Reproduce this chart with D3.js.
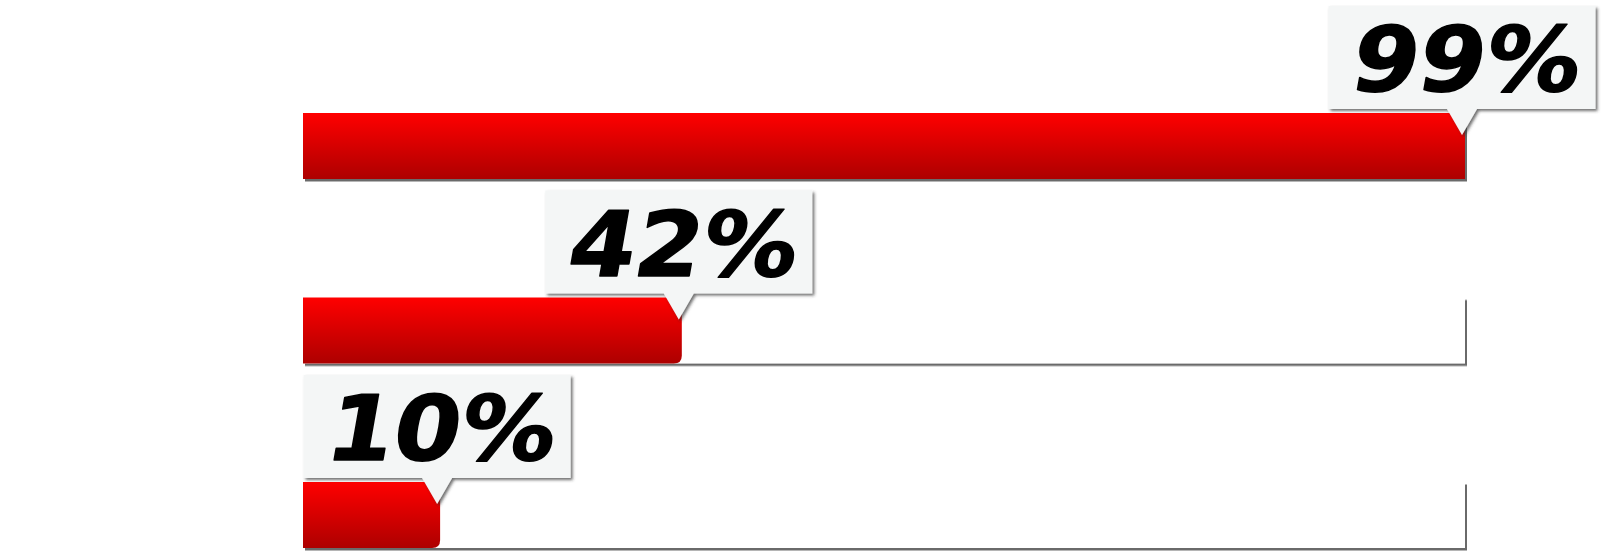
<!DOCTYPE html>
<html>
<head>
<meta charset="utf-8">
<script src="https://cdn.jsdelivr.net/npm/d3@7"></script>
<style>
  html, body { margin: 0; padding: 0; background: #fff; }
  svg { display: block; }
</style>
</head>
<body>
<div id="chart"></div>
<script>
// rows, top to bottom
var categories = ["row1", "row2", "row3"]
var percentLabels = [99, 42, 10]          // numbers printed in the callouts
var barLengths = [100, 32.6, 11.8]        // how far each red bar is drawn, % of track

var width = 1605
var height = 551

var svg = d3.select("#chart")
            .append("svg")
            .attr("width", width)
            .attr("height", height)

var defs = svg.append("defs")

var grad = defs.append("linearGradient")
               .attr("id", "redgrad")
               .attr("x1", 0).attr("y1", 0)
               .attr("x2", 0).attr("y2", 1)
grad.append("stop").attr("offset", "0%").attr("stop-color", "#ff0000")
grad.append("stop").attr("offset", "100%").attr("stop-color", "#ad0000")

var trackShadow = defs.append("filter")
                      .attr("id", "trackshadow")
                      .attr("x", "-5%").attr("y", "-20%")
                      .attr("width", "110%").attr("height", "150%")
trackShadow.append("feDropShadow")
           .attr("dx", 2).attr("dy", 2.5)
           .attr("stdDeviation", 0.6)
           .attr("flood-color", "#6a6a6a")
           .attr("flood-opacity", 1)

var boxShadow = defs.append("filter")
                    .attr("id", "boxshadow")
                    .attr("x", "-10%").attr("y", "-10%")
                    .attr("width", "130%").attr("height", "140%")
boxShadow.append("feDropShadow")
         .attr("dx", 2).attr("dy", 2)
         .attr("stdDeviation", 1.6)
         .attr("flood-color", "#333")
         .attr("flood-opacity", 0.7)

var x = d3.scaleLinear()
          .domain([0, 100])
          .range([303, 1465])

var y = d3.scaleBand()
          .domain(categories)
          .range([113, 548])
          .paddingInner(0.6423)
          .paddingOuter(0)

var rows = categories.map(function(c, i) {
  return {cat: c, label: percentLabels[i], len: barLengths[i]}
})

// white tracks with a little shadow on the right and bottom
svg.selectAll(".track")
   .data(rows)
   .enter()
   .append("rect")
   .attr("class", "track")
   .attr("x", x(0))
   .attr("y", function(d) { return y(d.cat) })
   .attr("width", x(100) - x(0))
   .attr("height", y.bandwidth())
   .attr("fill", "#fff")
   .attr("filter", "url(#trackshadow)")

// red bars, bottom right corner rounded unless the bar is full
function barPath(d) {
  var x0 = x(0), x1 = x(d.len)
  var y0 = y(d.cat), y1 = y0 + y.bandwidth()
  var r = d.len >= 100 ? 0 : 8
  return "M" + x0 + "," + y0 +
         "H" + x1 +
         "V" + (y1 - r) +
         "Q" + x1 + "," + y1 + " " + (x1 - r) + "," + y1 +
         "H" + x0 + "Z"
}

svg.selectAll(".bar")
   .data(rows)
   .enter()
   .append("path")
   .attr("class", "bar")
   .attr("d", barPath)
   .attr("fill", "url(#redgrad)")

// callouts
var boxW = 267, boxH = 103, tipHalf = 15

function calloutPath(d) {
  var tipX = x(d.len) - 3
  var tipY = y(d.cat) + 22
  var bottom = y(d.cat) - 4
  var top = bottom - boxH
  var left = tipX - boxW / 2, right = tipX + boxW / 2
  return "M" + left + "," + top +
         "H" + right +
         "V" + bottom +
         "H" + (tipX + tipHalf) +
         "L" + tipX + "," + tipY +
         "L" + (tipX - tipHalf) + "," + bottom +
         "H" + left + "Z"
}

var callouts = svg.selectAll(".callout")
                  .data(rows)
                  .enter()
                  .append("g")
                  .attr("class", "callout")

callouts.append("path")
        .attr("d", calloutPath)
        .attr("fill", "#f4f6f6")
        .attr("filter", "url(#boxshadow)")

// upright bold font, slanted and widened by hand so it looks more like the squarish original
callouts.append("text")
        .attr("transform", function(d) {
          var cx = x(d.len) - 3
          var by = y(d.cat) - 4 - boxH + 85
          return "translate(" + cx + "," + by + ") skewX(-10) scale(1.06,1)"
        })
        .attr("text-anchor", "middle")
        .attr("font-family", "DejaVu Sans")
        .attr("font-weight", "bold")
        .attr("font-size", 90)
        .attr("fill", "#000")
        .attr("stroke", "#000")
        .attr("stroke-width", 1.5)
        .attr("stroke-linejoin", "round")
        .text(function(d) { return d.label + "%" })
</script>
</body>
</html>
